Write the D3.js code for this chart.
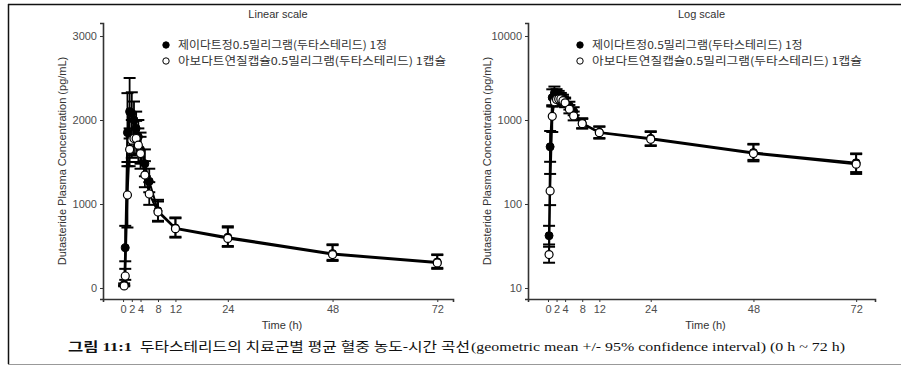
<!DOCTYPE html>
<html>
<head>
<meta charset="utf-8">
<script src="https://cdn.jsdelivr.net/npm/d3@7"></script>
<style>
  body { margin: 0; background: #fff; }
  text { font-family: "Liberation Sans", Arial, sans-serif; }
</style>
</head>
<body>
<script>
// sampling times (h)
var times = [0.25, 0.5, 1, 1.5, 2, 2.5, 3, 3.5, 4, 5, 6, 8, 12, 24, 48, 72];

// 제이다트정 (filled) geometric mean and 95% CI
var testMean = [42, 480, 1850, 2100, 2080, 2000, 1900, 1800, 1650, 1480, 1270, 920, 715, 605, 410, 310];
var testLow  = [33, 318, 1450, 1780, 1800, 1750, 1680, 1600, 1480, 1330, 1140, 800, 610, 500, 335, 240];
var testHigh = [55, 740, 2320, 2500, 2330, 2220, 2100, 2000, 1850, 1650, 1420, 1050, 840, 735, 520, 400];

// 아보다트연질캡슐 (open) geometric mean and 95% CI
var refMean = [25, 143, 1107, 1650, 1760, 1780, 1780, 1700, 1600, 1345, 1119, 905, 706, 590, 398, 298];
var refLow  = [20, 97, 720, 1450, 1550, 1580, 1580, 1500, 1420, 1200, 990, 790, 600, 490, 322, 228];
var refHigh = [31, 228, 1500, 1900, 2000, 2000, 1990, 1900, 1800, 1510, 1260, 1030, 830, 720, 510, 392];

var xTicks = [0, 2, 4, 8, 12, 24, 48, 72];
var linTicks = [0, 1000, 2000, 3000];
var logTicks = [10, 100, 1000, 10000];
var legendLabels = ["제이다트정0.5밀리그램(두타스테리드) 1정", "아보다트연질캡슐0.5밀리그램(두타스테리드) 1캡슐"];

var width = 901, height = 368;
var svg = d3.select("body").append("svg")
  .attr("width", width).attr("height", height);

// frame
svg.append("line").attr("x1", 8).attr("x2", 901).attr("y1", 4.5).attr("y2", 4.5)
  .attr("stroke", "#111").attr("stroke-width", 1.5);
svg.append("line").attr("x1", 8.5).attr("x2", 8.5).attr("y1", 4).attr("y2", 364)
  .attr("stroke", "#111").attr("stroke-width", 1.5);
svg.append("line").attr("x1", 8).attr("x2", 901).attr("y1", 364.5).attr("y2", 364.5)
  .attr("stroke", "#999").attr("stroke-width", 1);

function series(mean, low, high) {
  return times.map(function(t, i) { return {t: t, m: mean[i], lo: low[i], hi: high[i]}; });
}
var testData = series(testMean, testLow, testHigh);
var refData = series(refMean, refLow, refHigh);

function panel(opts) {
  var g = svg.append("g");
  var x = d3.scaleLinear().domain(opts.xDomain).range([opts.left, opts.right]);
  var y = opts.log
    ? d3.scaleLog().domain(opts.yDomain).range([opts.bottom, opts.top])
    : d3.scaleLinear().domain(opts.yDomain).range([opts.bottom, opts.top]);

  // axes
  var xAxis = d3.axisBottom(x).tickValues(xTicks).tickSize(3).tickPadding(3);
  var yAxis = d3.axisLeft(y).tickValues(opts.yTicks).tickSize(3).tickPadding(3)
    .tickFormat(d3.format("d"));

  var gx = g.append("g").attr("transform", "translate(0," + opts.bottom + ")").call(xAxis);
  var gy = g.append("g").attr("transform", "translate(" + opts.left + ",0)").call(yAxis);
  [gx, gy].forEach(function(a) {
    a.select(".domain").attr("stroke", "#333").attr("stroke-width", 1.6);
    a.selectAll(".tick line").attr("stroke", "#333");
    a.selectAll(".tick text").attr("fill", "#4d4d4d").style("font-size", "11px")
      .style("font-family", "Liberation Sans, Arial, sans-serif");
  });

  g.append("text").attr("x", (opts.left + opts.right) / 2).attr("y", 18)
    .attr("text-anchor", "middle").attr("fill", "#333").style("font-size", "11px")
    .text(opts.title);
  g.append("text").attr("x", (opts.left + opts.right) / 2 + 4).attr("y", 329)
    .attr("text-anchor", "middle").attr("fill", "#333").style("font-size", "11px")
    .text("Time (h)");
  g.append("text")
    .attr("transform", "translate(" + (opts.left - 37) + "," + ((opts.top + opts.bottom) / 2) + ") rotate(-90)")
    .attr("text-anchor", "middle").attr("fill", "#333").style("font-size", "11px")
    .text("Dutasteride Plasma Concentration (pg/mL)");

  var line = d3.line().x(function(d) { return x(d.t); }).y(function(d) { return y(d.m); });

  [testData, refData].forEach(function(data) {
    g.append("path").datum(data).attr("d", line)
      .attr("fill", "none").attr("stroke", "#000").attr("stroke-width", 2);
  });

  [testData, refData].forEach(function(data) {
    var eb = g.append("g").selectAll("g").data(data).enter().append("g");
    eb.append("line")
      .attr("x1", function(d) { return x(d.t); }).attr("x2", function(d) { return x(d.t); })
      .attr("y1", function(d) { return y(d.lo); }).attr("y2", function(d) { return y(d.hi); })
      .attr("stroke", "#000").attr("stroke-width", 1.8);
    ["lo", "hi"].forEach(function(k) {
      eb.append("line")
        .attr("x1", function(d) { return x(d.t) - 6; }).attr("x2", function(d) { return x(d.t) + 6; })
        .attr("y1", function(d) { return y(d[k]); }).attr("y2", function(d) { return y(d[k]); })
        .attr("stroke", "#000").attr("stroke-width", 2);
    });
  });

  g.append("g").selectAll("circle").data(testData).enter().append("circle")
    .attr("cx", function(d) { return x(d.t); }).attr("cy", function(d) { return y(d.m); })
    .attr("r", 4).attr("fill", "#000").attr("stroke", "#000");
  g.append("g").selectAll("circle").data(refData).enter().append("circle")
    .attr("cx", function(d) { return x(d.t); }).attr("cy", function(d) { return y(d.m); })
    .attr("r", 4).attr("fill", "#fff").attr("stroke", "#000").attr("stroke-width", 1.2);

  // legend
  var lg = g.append("g").attr("transform", "translate(" + opts.legendX + ",45)");
  var lens = [opts.legendW * 0.78, opts.legendW];
  legendLabels.forEach(function(lab, i) {
    lg.append("circle").attr("cx", 0).attr("cy", i * 16).attr("r", 3.2)
      .attr("fill", i == 0 ? "#000" : "#fff").attr("stroke", "#000").attr("stroke-width", 1);
    lg.append("text").attr("x", 12).attr("y", i * 16 + 4).attr("fill", "#333")
      .attr("textLength", lens[i]).attr("lengthAdjust", "spacingAndGlyphs")
      .style("font-size", "11px").style("font-family", "Noto Sans CJK KR, sans-serif")
      .text(lab);
  });
}

panel({ left: 103, right: 453, top: 23, bottom: 299, xDomain: [-4.6, 75.6],
        yDomain: [-131, 3155], yTicks: linTicks, log: false, title: "Linear scale",
        legendX: 166, legendW: 268 });
panel({ left: 528, right: 875, top: 23, bottom: 299, xDomain: [-4.67, 76.4],
        yDomain: [7.4, 14280], yTicks: logTicks, log: true, title: "Log scale",
        legendX: 580, legendW: 270 });

// caption, stretched like the source scan
var capParts = [
  {x: 68, w: 64, bold: true, t: "그림 11:1"},
  {x: 140, w: 330, bold: false, t: "두타스테리드의 치료군별 평균 혈중 농도-시간 곡선"},
  {x: 471, w: 374, bold: false, t: "(geometric mean +/- 95% confidence interval) (0 h ~ 72 h)"}
];
svg.selectAll(".cap").data(capParts).enter().append("text")
  .attr("class", "cap")
  .attr("x", function(d) { return d.x; }).attr("y", 351)
  .attr("textLength", function(d) { return d.w; }).attr("lengthAdjust", "spacingAndGlyphs")
  .attr("font-weight", function(d) { return d.bold ? "bold" : "normal"; })
  .style("font-size", "13px").style("font-family", "Liberation Serif, Noto Sans CJK KR, serif")
  .attr("fill", "#111")
  .text(function(d) { return d.t; });
</script>
</body>
</html>
